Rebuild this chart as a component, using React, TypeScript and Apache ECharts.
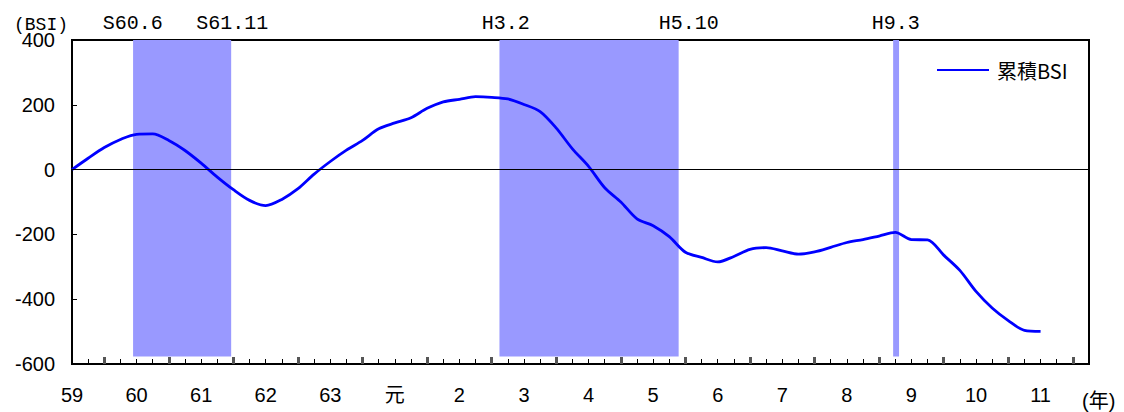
import React, { useEffect, useRef } from 'react';
import * as echarts from 'echarts';

// x value = months since the "59" label; one point per quarter
const yearLabels = ['59', '60', '61', '62', '63', '元', '2', '3', '4', '5', '6', '7', '8', '9', '10', '11'];
const cumulativeBSI = [
  0, 35, 68, 93, 109, 110, 90, 59, 20, -23,
  -62, -95, -111, -92, -59, -14, 25, 60, 90, 126,
  144, 160, 189, 209, 217, 225, 223, 218, 201, 179,
  128, 64, 10, -56, -100, -152, -173, -207, -255, -271,
  -285, -268, -246, -241, -251, -261, -254, -240, -225, -216,
  -205, -194, -216, -217, -264, -311, -376, -427, -466, -496,
  -499,
];
const recessionStarts = [11.35, 79.44, 152.6];
const recessionEnds = [29.58, 112.74, 153.7];
const markerLabels = ['S60.6', 'S61.11', 'H3.2', 'H5.10', 'H9.3'];
const markerMonths = [11.3, 29.8, 80.6, 114.6, 153.1];
const yTicks = { min: -600, max: 400, interval: 200 };

export default function App() {
  const ref = useRef<HTMLDivElement>(null);
  useEffect(() => {
    const chart = echarts.init(ref.current!, null, { renderer: 'svg' });
    const quarterCats = Array.from({ length: 64 }, (_, i) => String(i));
    const lineData = cumulativeBSI.map((v, i) => [i * 3, v]);
    const axisFont = "'Liberation Sans', 'Noto Sans CJK JP', sans-serif";
    const monoFont = "'Liberation Mono', 'DejaVu Sans Mono', monospace";
    chart.setOption({
      animation: false,
      grid: { left: 72, right: 35, top: 40, bottom: 48, show: true, borderColor: '#000', borderWidth: 2 },
      legend: {
        data: [{ name: '累積BSI', icon: 'rect' }],
        left: 932,
        top: 55,
        itemWidth: 52,
        itemHeight: 2,
        textStyle: { fontSize: 20, color: '#000', fontFamily: "'Noto Sans CJK JP', sans-serif", padding: [0, 0, 0, 3] },
      },
      xAxis: [
        {
          type: 'value',
          min: 0,
          max: 189,
          interval: 3,
          axisLine: { show: true, onZero: false, lineStyle: { color: '#000', width: 2 } },
          axisTick: { show: true, inside: true, length: 5, lineStyle: { color: '#000', width: 1 } },
          splitLine: { show: false },
          axisLabel: {
            show: true,
            margin: 21,
            fontSize: 20,
            color: '#000',
            fontFamily: axisFont,
            showMinLabel: true,
            showMaxLabel: false,
            formatter: (v: number) => (v % 12 === 0 && yearLabels[v / 12] !== undefined ? yearLabels[v / 12] : ''),
          },
        },
        {
          type: 'category',
          data: quarterCats,
          boundaryGap: false,
          position: 'bottom',
          axisLine: { show: false, onZero: false },
          axisLabel: { show: false },
          splitLine: { show: false },
          axisTick: {
            show: true,
            inside: true,
            length: 7,
            interval: (i: number) => i % 4 === 2,
            lineStyle: { color: '#555', width: 3 },
          },
        },
      ],
      yAxis: {
        type: 'value',
        min: yTicks.min,
        max: yTicks.max,
        interval: yTicks.interval,
        axisLine: { show: true, lineStyle: { color: '#000', width: 2 } },
        axisTick: { show: true, inside: true, length: 5, lineStyle: { color: '#000', width: 1 } },
        splitLine: { show: false },
        axisLabel: { fontSize: 20, color: '#000', margin: 17, fontFamily: axisFont },
      },
      graphic: [
        { type: 'text', left: 14, top: 16, style: { text: '(BSI)', font: `18px ${monoFont}`, fill: '#000' } },
        { type: 'text', left: 1082, top: 391, style: { text: '(年)', font: "20px 'Liberation Sans', 'Noto Sans CJK JP', sans-serif", fill: '#000' } },
      ],
      series: [
        {
          name: '累積BSI',
          type: 'line',
          xAxisIndex: 0,
          data: lineData,
          symbol: 'none',
          smooth: 0.3,
          z: 3,
          lineStyle: { color: '#0000ff', width: 2.8 },
          itemStyle: { color: '#0000ff' },
          markArea: {
            silent: true,
            itemStyle: { color: '#9999ff', opacity: 1 },
            data: recessionStarts.map((s, i) => [
              { xAxis: s, yAxis: -577 },
              { xAxis: recessionEnds[i], yAxis: 400 },
            ]),
          },
          markLine: {
            silent: true,
            symbol: ['none', 'none'],
            animation: false,
            data: [
              { yAxis: 0, lineStyle: { color: '#000', width: 1, type: 'solid' }, label: { show: false } },
              ...markerMonths.map((m, i) => ({
                xAxis: m,
                name: markerLabels[i],
                lineStyle: { color: 'rgba(0,0,0,0)', width: 1 },
                label: {
                  show: true,
                  position: 'end',
                  formatter: markerLabels[i],
                  distance: 7,
                  fontFamily: monoFont,
                  fontSize: 20,
                  color: '#000',
                },
              })),
            ],
          },
        },
      ],
    });
    return () => chart.dispose();
  }, []);
  return <div ref={ref} style={{ position: 'absolute', left: 0, top: 0, width: 1124, height: 412 }} />;
}
